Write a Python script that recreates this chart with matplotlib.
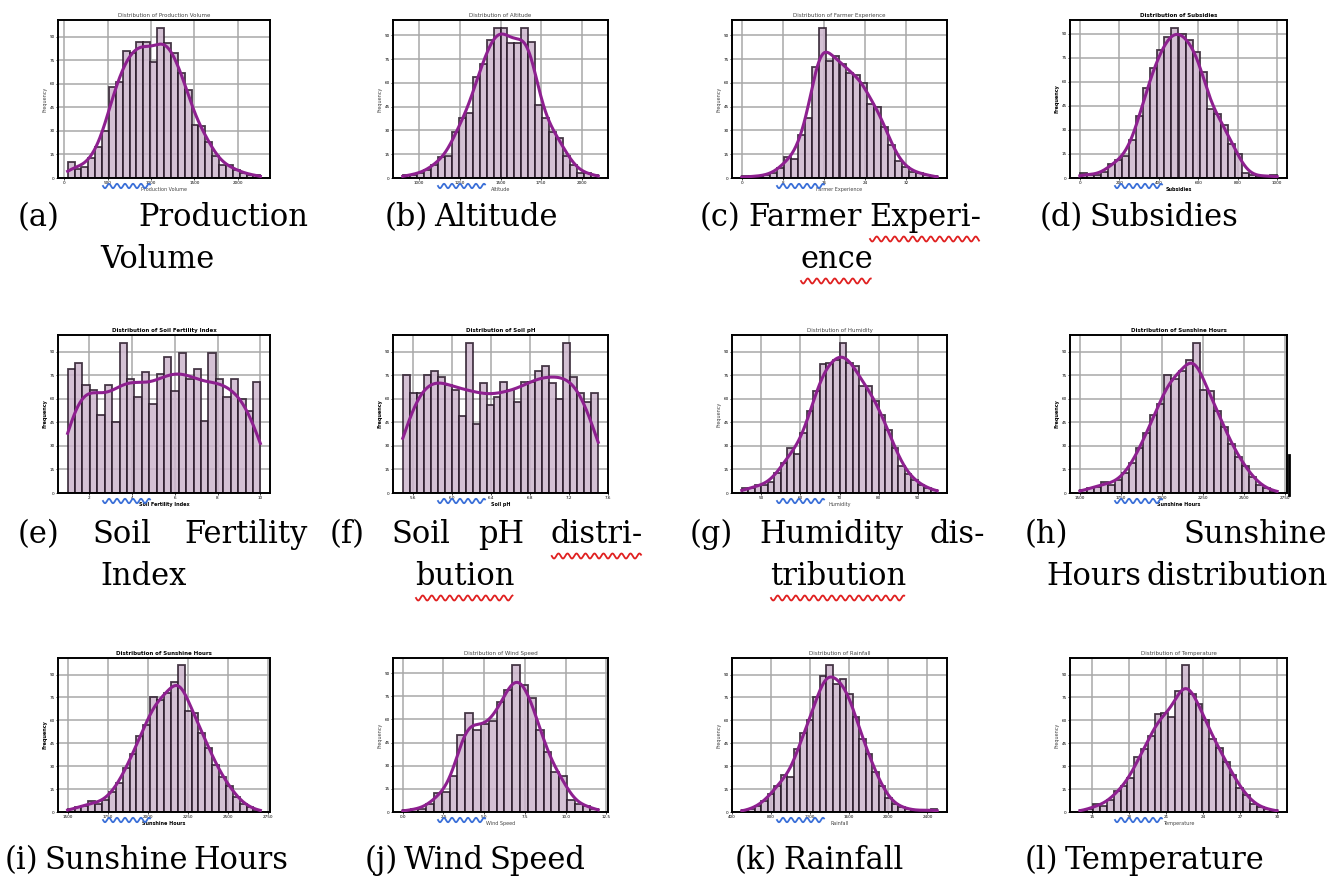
import numpy as np
import matplotlib
matplotlib.use('Agg')
import matplotlib.pyplot as plt
from matplotlib.lines import Line2D
from matplotlib.ticker import MaxNLocator

W, H = 1343, 891

# bin counts, left to right
production_volume = [10, 6, 7, 13, 20, 30, 58, 61, 81, 80, 87, 87, 74, 96, 86, 80, 67, 56, 34, 33, 23, 14, 8, 8, 5, 3, 2, 2]
altitude = [2, 2, 3, 5, 8, 13, 14, 29, 38, 41, 64, 72, 87, 95, 95, 85, 85, 95, 86, 46, 38, 29, 25, 14, 8, 3, 3, 2]
farmer_experience = [1, 1, 1, 2, 3, 6, 13, 12, 27, 38, 70, 95, 74, 77, 72, 66, 65, 60, 47, 45, 32, 21, 11, 7, 4, 3, 2, 1]
subsidies = [3, 2, 2, 4, 9, 11, 14, 24, 39, 56, 69, 80, 88, 94, 90, 86, 79, 66, 43, 40, 33, 21, 15, 3, 2, 1, 1, 2]
soil_fertility = [79, 83, 69, 66, 50, 69, 45, 96, 73, 61, 77, 57, 76, 87, 65, 89, 73, 79, 46, 89, 73, 61, 73, 60, 52, 71]
soil_ph = [75, 64, 64, 75, 78, 74, 69, 66, 49, 96, 44, 70, 56, 61, 71, 66, 58, 71, 71, 78, 81, 70, 60, 96, 74, 64, 58, 64]
humidity = [3, 3, 5, 5, 7, 13, 19, 29, 25, 38, 52, 65, 82, 83, 85, 96, 83, 81, 68, 68, 59, 50, 40, 29, 17, 12, 8, 5, 3, 2]
sunshine_hours = [2, 3, 4, 7, 5, 8, 13, 19, 29, 38, 50, 57, 75, 73, 78, 85, 96, 66, 65, 52, 42, 31, 23, 17, 10, 5, 3, 1]
wind_speed = [1, 2, 2, 5, 12, 13, 23, 50, 64, 53, 57, 59, 71, 79, 95, 82, 74, 53, 39, 26, 23, 8, 5, 4, 2]
rainfall = [1, 2, 4, 7, 12, 17, 24, 23, 41, 52, 60, 75, 89, 96, 84, 87, 77, 62, 48, 38, 26, 17, 9, 5, 3, 2, 1, 1, 1, 2]
temperature = [1, 2, 5, 4, 8, 14, 17, 22, 36, 41, 50, 64, 65, 62, 79, 96, 77, 71, 60, 48, 42, 33, 24, 16, 11, 5, 3, 2, 1]

variables = ['Production Volume', 'Altitude', 'Farmer Experience', 'Subsidies',
             'Soil Fertility Index', 'Soil pH', 'Humidity', 'Sunshine Hours',
             'Sunshine Hours', 'Wind Speed', 'Rainfall', 'Temperature']
series = [production_volume, altitude, farmer_experience, subsidies,
          soil_fertility, soil_ph, humidity, sunshine_hours,
          sunshine_hours, wind_speed, rainfall, temperature]
x_ranges = [(40, 2260), (900, 2100), (0, 38), (0, 1000),
            (1, 10), (5.5, 7.5), (45, 95), (1500, 2700),
            (1500, 2700), (0, 12), (500, 2500), (14, 30)]
bold_titles = [False, False, False, True, True, True, False, True, True, False, False, False]

# caption lines: (text, left px, right px or None, baseline px, spell-flagged words)
caption_lines = [
    ('(a) Production', 18, 308, 226, []), ('Volume', 100, None, 268, []),
    ('(b) Altitude', 385, None, 226, []),
    ('(c) Farmer Experi-', 700, 981, 226, ['Experi-']), ('ence', 800, None, 268, ['ence']),
    ('(d) Subsidies', 1040, None, 226, []),
    ('(e) Soil Fertility', 18, 308, 543, []), ('Index', 100, None, 585, []),
    ('(f) Soil pH distri-', 330, 643, 543, ['distri-']), ('bution', 415, None, 585, ['bution']),
    ('(g) Humidity dis-', 690, 985, 543, []), ('tribution', 770, None, 585, ['tribution']),
    ('(h) Sunshine', 1025, 1327, 543, []), ('Hours distribution', 1046, None, 585, []),
    ('(i) Sunshine Hours', 5, None, 869, []), ('(j) Wind Speed', 365, None, 869, []),
    ('(k) Rainfall', 735, None, 869, []), ('(l) Temperature', 1025, None, 869, []),
]

# axes boxes in pixels (left, top, right, bottom)
cols = [(58, 270), (393, 608), (732, 947), (1070, 1287)]
rows = [(20, 178), (335, 493), (658, 812)]

fig = plt.figure(figsize=(W / 100, H / 100), dpi=100)
renderer = fig.canvas.get_renderer()


def px_rect(l, t, r, b):
    return [l / W, 1 - b / H, (r - l) / W, (b - t) / H]


def squiggle(x0, x1, y, color, amp=2.5, period=9):
    xs = np.linspace(x0, x1, 200)
    ys = y + amp * np.sin(2 * np.pi * (xs - x0) / period)
    fig.add_artist(Line2D(xs / W, 1 - ys / H, color=color, lw=1.3,
                          transform=fig.transFigure))


for i, (name, counts) in enumerate(zip(variables, series)):
    r, c = divmod(i, 4)
    ax = fig.add_axes(px_rect(cols[c][0], rows[r][0], cols[c][1], rows[r][1]))
    counts = np.array(counts, dtype=float)
    lo, hi = x_ranges[i]
    edges = np.linspace(lo, hi, len(counts) + 1)
    w = edges[1] - edges[0]
    ax.bar(edges[:-1], counts, width=w, align='edge', color='#cdb6cd',
           edgecolor='#2a1a2a', linewidth=1.3, alpha=0.85, zorder=2)

    # smooth density curve from the binned counts (Scott-like bandwidth)
    centers = edges[:-1] + w / 2
    mean = np.average(centers, weights=counts)
    std = np.sqrt(np.average((centers - mean) ** 2, weights=counts))
    bw = 0.27 * std
    xs = np.linspace(edges[0], edges[-1], 300)
    kde = (counts[None, :] * np.exp(-0.5 * ((xs[:, None] - centers[None, :]) / bw) ** 2)).sum(1)
    kde *= w / (np.sqrt(2 * np.pi) * bw)
    ax.plot(xs, kde, color='#8e2090', lw=2.2, zorder=3)

    ax.grid(True, color='#a8a8a8', lw=1.1, zorder=0)
    ax.set_axisbelow(True)
    ax.xaxis.set_major_locator(MaxNLocator(6))
    ax.yaxis.set_major_locator(MaxNLocator(9))
    for s in ax.spines.values():
        s.set_linewidth(1.4)
    ax.tick_params(labelsize=3, length=1.5, width=0.5, pad=1)
    weight = 'bold' if bold_titles[i] else 'normal'
    tcolor = 'black' if bold_titles[i] else '#444444'
    ax.set_title('Distribution of ' + name, fontsize=4, pad=2, fontweight=weight, color=tcolor)
    ax.set_xlabel(name, fontsize=3.5, labelpad=1, fontweight=weight, color=tcolor)
    ax.set_ylabel('Frequency', fontsize=3.5, labelpad=1, fontweight=weight, color=tcolor)
    # blue grammar marks under the first tick labels
    squiggle(cols[c][0] + 45, cols[c][0] + 92, rows[r][1] + 8, '#3a6fd8', amp=2.2, period=8)

# captions, justified like the document columns
cap = dict(family='DejaVu Serif', fontsize=22, color='black', va='baseline', ha='left')
probe_a = fig.text(0, 0, 'ab', **cap)
probe_b = fig.text(0, 0, 'a b', **cap)
space = 0.6 * (probe_b.get_window_extent(renderer).width - probe_a.get_window_extent(renderer).width)
probe_a.remove()
probe_b.remove()

for line, left, right, base, flagged in caption_lines:
    words = line.split(' ')
    texts = [fig.text(0, 1 - base / H, wd, **cap) for wd in words]
    widths = [t.get_window_extent(renderer).width for t in texts]
    if right is None or len(words) == 1:
        gap = space
    else:
        gap = max(space, (right - left - sum(widths)) / (len(words) - 1))
    x = left
    for wd, t, wid in zip(words, texts, widths):
        t.set_x(x / W)
        if wd in flagged:
            squiggle(x + 1, x + wid - 2, base + 13, '#e02020', amp=2.5, period=9)
        x += wid + gap

# stray mark at the right edge of panel (h)
fig.add_artist(Line2D([1289 / W, 1289 / W], [1 - 455 / H, 1 - 495 / H], color='black', lw=2,
                      transform=fig.transFigure))

fig.savefig('out.png', dpi=100, facecolor='white')
